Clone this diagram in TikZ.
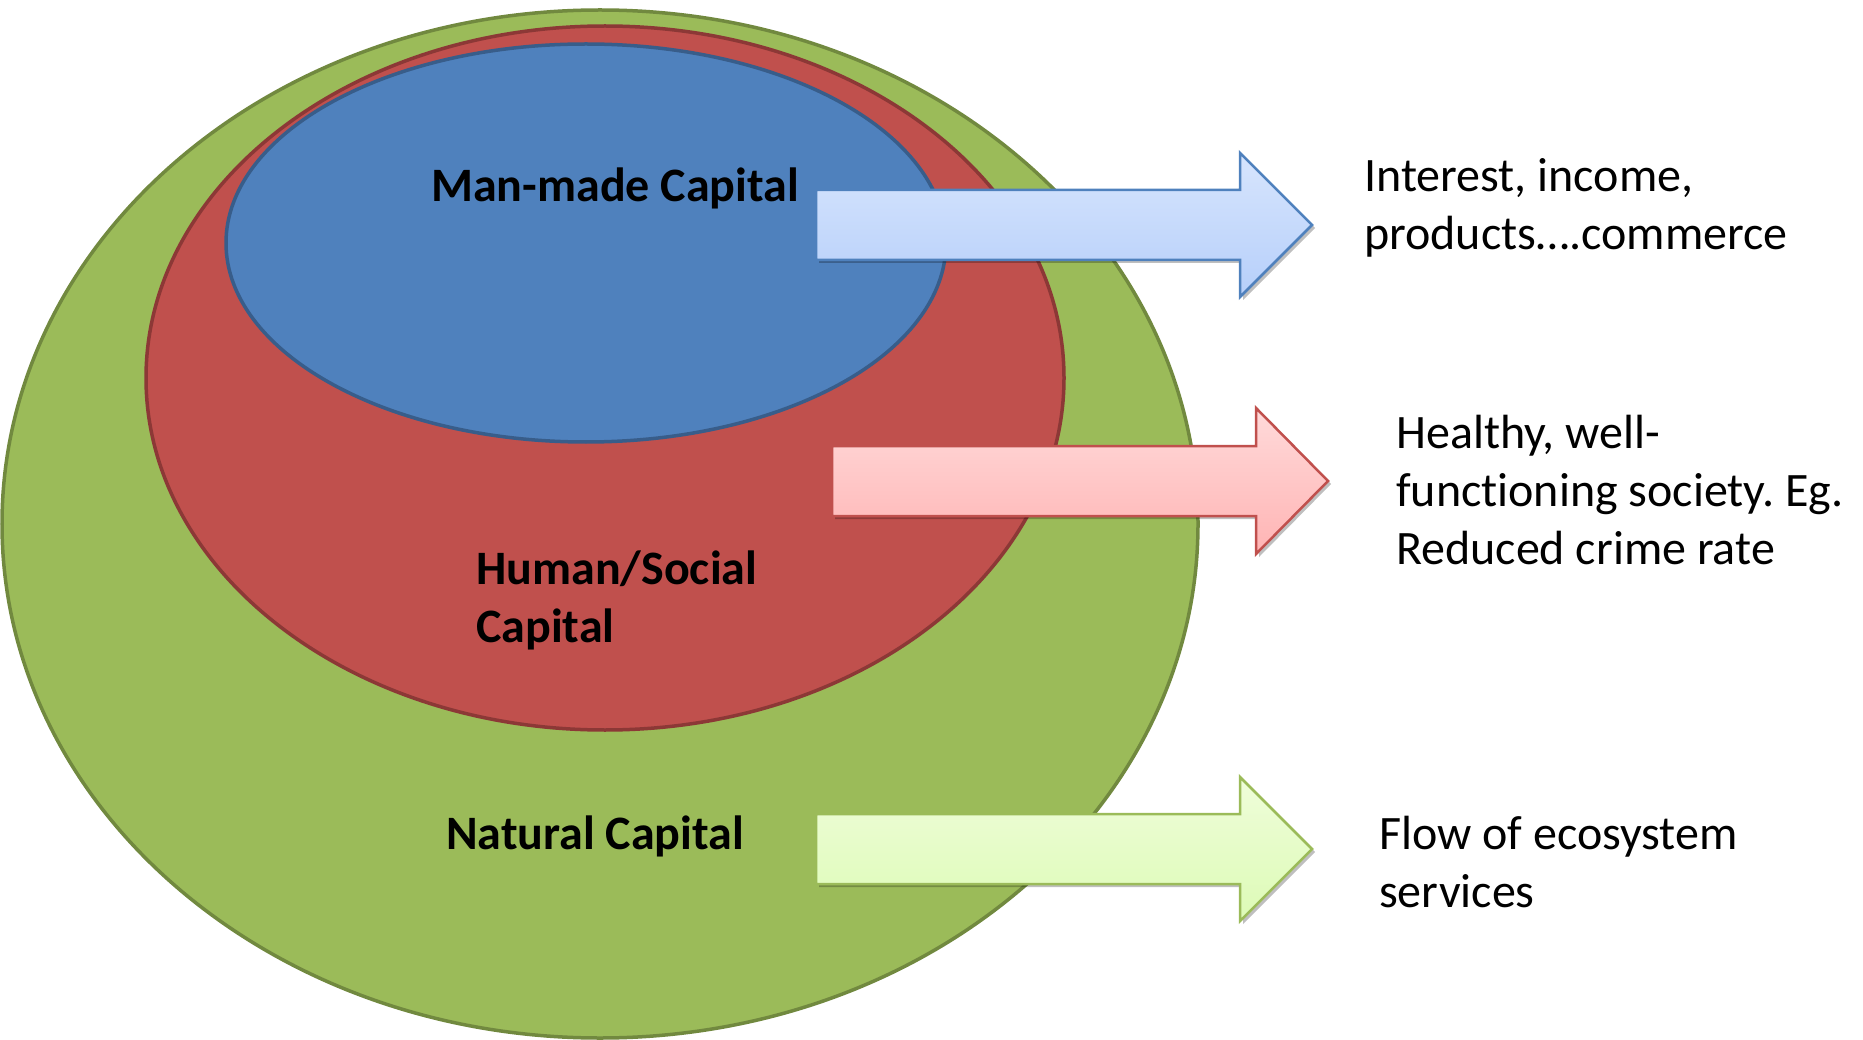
\documentclass[tikz,border=0pt]{standalone}
\usepackage{fontspec}
\setmainfont{Carlito}[Ligatures=NoCommon]
\frenchspacing
\usetikzlibrary{shadows}
\definecolor{gfill}{HTML}{9BBB59}
\definecolor{gline}{HTML}{71893F}
\definecolor{rfill}{HTML}{C0504D}
\definecolor{rline}{HTML}{8C3836}
\definecolor{bfill}{HTML}{4F81BD}
\definecolor{bline}{HTML}{385D8A}
\definecolor{batop}{HTML}{D7E5FD}
\definecolor{babot}{HTML}{B6CFFA}
\definecolor{ratop}{HTML}{FFDADA}
\definecolor{rabot}{HTML}{FFB4B4}
\definecolor{raline}{HTML}{C0504D}
\definecolor{gatop}{HTML}{EFFDDA}
\definecolor{gabot}{HTML}{DDFBB6}
\definecolor{galine}{HTML}{9BBB59}
\tikzset{
  capring/.style={line width=3.5pt},
  flowarrow/.style={line width=2.5pt, line join=miter,
    drop shadow={shadow xshift=3pt, shadow yshift=-3pt, opacity=0.25, fill=black}},
  boldlabel/.style={inner sep=0pt, anchor=base west, align=left,
    font=\fontsize{48}{58}\selectfont\bfseries},
  outlabel/.style={inner sep=0pt, anchor=base west, align=left,
    font=\fontsize{48}{58}\selectfont},
}
\begin{document}
\begin{tikzpicture}[x=1pt,y=-1pt]
\useasboundingbox (0,0) rectangle (1863,1040);
% nested capital ellipses
\draw[capring, fill=gfill, draw=gline] (600,524) ellipse [x radius=598, y radius=514];
\draw[capring, fill=rfill, draw=rline] (605,378) ellipse [x radius=459, y radius=352];
\draw[capring, fill=bfill, draw=bline] (586,243) ellipse [x radius=360, y radius=199];
% arrows
\draw[flowarrow, draw=bfill, top color=batop, bottom color=babot]
  (816,190) -- (1240,190) -- (1240,153) -- (1312,225) -- (1240,297) -- (1240,260) -- (816,260) -- cycle;
\draw[flowarrow, draw=raline, top color=ratop, bottom color=rabot]
  (832,446) -- (1256,446) -- (1256,408) -- (1328,481) -- (1256,554) -- (1256,516) -- (832,516) -- cycle;
\draw[flowarrow, draw=galine, top color=gatop, bottom color=gabot]
  (816,814) -- (1240,814) -- (1240,777) -- (1312,849) -- (1240,921) -- (1240,884) -- (816,884) -- cycle;
% labels (base anchor = baseline of last line)
\node[boldlabel] (man) at (431,202) {Man-made Capital};
\node[boldlabel] (hum) at (476,642) {Human/Social\\Capital};
\node[boldlabel] (nat) at (446,849) {Natural Capital};
\node[outlabel] (o1) at (1364,250) {Interest, income,\\products….commerce};
\node[outlabel] (o2) at (1396,564) {Healthy, well-\\functioning society. Eg.\\Reduced crime rate};
\node[outlabel] (o3) at (1379,907) {Flow of ecosystem\\services};
\end{tikzpicture}
\end{document}
